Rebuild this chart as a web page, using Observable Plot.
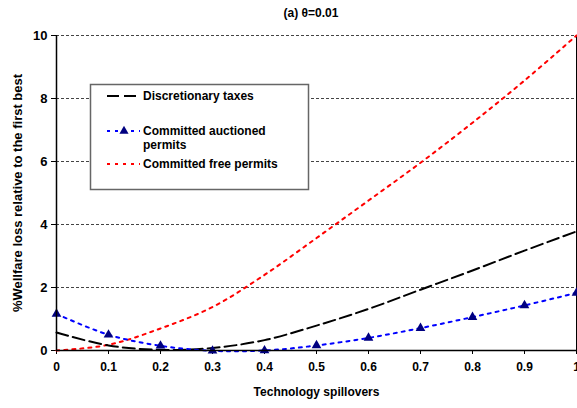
<!DOCTYPE html>
<html><head><meta charset="utf-8">
<script src="https://cdn.jsdelivr.net/npm/d3@7"></script>
<script src="https://cdn.jsdelivr.net/npm/@observablehq/plot@0.6"></script>
<style>body{margin:0;background:#fff} #chart{width:577px;height:408px}</style>
</head><body><div id="chart"></div>
<script>
const spillovers = [0, 0.1, 0.2, 0.3, 0.4, 0.5, 0.6, 0.7, 0.8, 0.9, 1];
const discretionaryTaxes = [0.57, 0.16, 0.02, 0.08, 0.33, 0.79, 1.32, 1.93, 2.54, 3.17, 3.78];
const auctionedPermits = [1.16, 0.5, 0.15, -0.01, 0.0, 0.16, 0.4, 0.71, 1.06, 1.43, 1.83];
const freePermits = [0, 0.18, 0.7, 1.38, 2.4, 3.57, 4.76, 5.96, 7.23, 8.57, 10];
const yTicks = [0, 2, 4, 6, 8, 10];
const seriesNames = ["Discretionary taxes", "Committed auctioned permits", "Committed free permits"];
const title = "(a) θ=0.01";
const xLabel = "Technology spillovers";
const yLabel = "%Wellfare loss relative to the first best";

const toRows = vals => spillovers.map((x, i) => ({x, y: vals[i]}));
const disc = toRows(discretionaryTaxes), auc = toRows(auctionedPermits), free = toRows(freePermits);

const font = "'Liberation Sans', Arial, sans-serif";
const plot = Plot.plot({
  width: 577, height: 408,
  marginLeft: 56, marginRight: 1, marginTop: 35, marginBottom: 58,
  style: {fontFamily: font, fontSize: "12px", fontWeight: "bold", color: "#000", background: "#fff"},
  x: {domain: [0, 1]},
  y: {domain: [0, 10]},
  marks: [
    Plot.gridY(yTicks.filter(d => d > 0), {stroke: "#444", strokeOpacity: 1, strokeDasharray: "3,2", strokeWidth: 1}),
    Plot.ruleX([1], {stroke: "#000", strokeWidth: 1}),
    Plot.axisY(yTicks, {tickSize: 5, tickPadding: 4, fontSize: 13, label: yLabel, labelAnchor: "center", labelOffset: 44, labelArrow: "none"}),
    Plot.axisX(spillovers, {tickSize: 4, tickPadding: 8, fontSize: 12, tickFormat: d => String(d), label: xLabel, labelAnchor: "center", labelOffset: 45, labelArrow: "none"}),
    Plot.line(free, {x: "x", y: "y", curve: "catmull-rom", stroke: "#ff0000", strokeWidth: 2, strokeDasharray: "3,5"}),
    Plot.line(disc, {x: "x", y: "y", curve: "catmull-rom", stroke: "#000", strokeWidth: 2, strokeDasharray: "12,5"}),
    Plot.line(auc, {x: "x", y: "y", curve: "catmull-rom", stroke: "#0000ff", strokeWidth: 2, strokeDasharray: "3,5"}),
    Plot.dot(auc, {x: "x", y: "y", symbol: "triangle", r: 3.6, fill: "#000080", stroke: "none"}),
    Plot.ruleY([0], {stroke: "#000", strokeWidth: 1.5}),
    Plot.ruleX([0], {stroke: "#000", strokeWidth: 1.5})
  ]
});
document.getElementById("chart").appendChild(plot);

const svg = d3.select(plot);
svg.append("text").attr("x", 311).attr("y", 17).attr("text-anchor", "middle")
  .attr("font-family", font).attr("font-size", 12).attr("font-weight", "bold").text(title);

const lg = svg.append("g").attr("font-family", font).attr("font-size", 12).attr("font-weight", "bold").attr("text-anchor", "start");
lg.append("rect").attr("x", 90.5).attr("y", 84.5).attr("width", 218).attr("height", 105)
  .attr("fill", "#fff").attr("stroke", "#666").attr("stroke-width", 1.5);
const items = [
  {y: 96, stroke: "#000", dash: "12,5", lines: [seriesNames[0]]},
  {y: 131, stroke: "#0000ff", dash: "3,5", lines: ["Committed auctioned", "permits"], tri: true},
  {y: 164, stroke: "#ff0000", dash: "3,5", lines: [seriesNames[2]]}
];
items.forEach(it => {
  lg.append("line").attr("x1", 107).attr("x2", 140).attr("y1", it.y).attr("y2", it.y)
    .attr("stroke", it.stroke).attr("stroke-width", 2).attr("stroke-dasharray", it.dash);
  if (it.tri) lg.append("path").attr("d", d3.symbol(d3.symbolTriangle, 36)()).attr("transform", `translate(124,${it.y})`).attr("fill", "#000080");
  it.lines.forEach((t, k) => lg.append("text").attr("x", 143).attr("y", it.y + 4 + k * 14).attr("text-anchor", "start").text(t));
});
</script>
</body></html>
